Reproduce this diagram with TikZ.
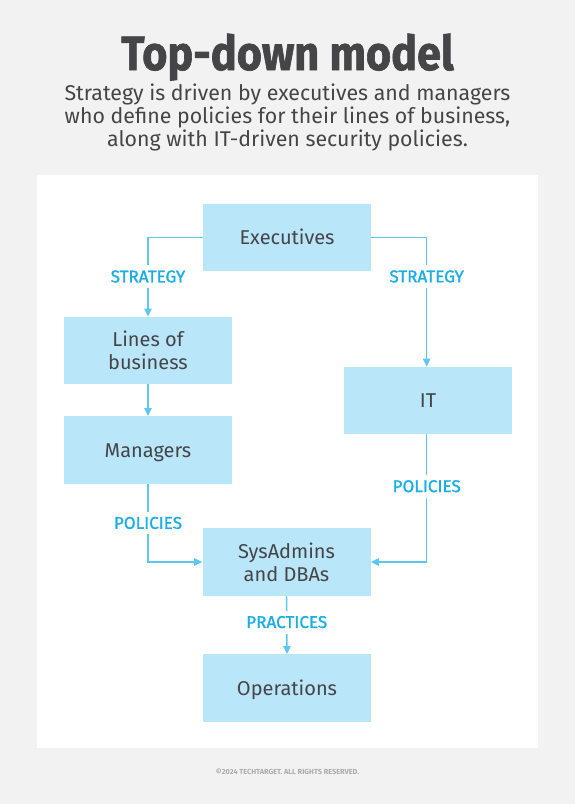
\documentclass[tikz,border=0pt]{standalone}
\usepackage{fontspec}
\setmainfont{Fira Sans}
\newfontfamily\lblfont[FakeBold=1.3]{Fira Sans}
\newfontfamily\titlefont[FakeBold=1.4]{Fira Sans}
\usetikzlibrary{arrows.meta}
\definecolor{bgc}{HTML}{F2F2F2}
\definecolor{boxc}{HTML}{BAE6FA}
\definecolor{linec}{HTML}{5CC8F2}
\definecolor{lblc}{HTML}{1BADE8}
\definecolor{txtc}{HTML}{454548}
\definecolor{footc}{HTML}{ABABAB}
\begin{document}
\begin{tikzpicture}[x=0.75pt,y=-0.75pt,
  box/.style={fill=boxc, minimum width=126pt, minimum height=50.5pt, inner sep=0pt, align=center, text=txtc, font=\fontsize{15}{17.5}\selectfont},
  boxone/.style={box, text height=10.6pt, text depth=0pt},
  lbl/.style={fill=white, text=lblc, inner xsep=2pt, inner ysep=4pt, font=\lblfont\fontsize{12.8}{14}\selectfont},
  arr/.style={draw=linec, line width=1.1pt, -{Triangle[length=6pt,width=5.5pt]}},
  subt/.style={anchor=base, text=txtc, font=\fontsize{16}{18}\selectfont, inner sep=0pt}]
\fill[bgc] (0,0) rectangle (575,804);
\useasboundingbox (0,0) rectangle (575,804);
\fill[white] (37,175) rectangle (538,748);
\node[anchor=base, text=txtc, inner sep=0pt, font=\titlefont\bfseries\fontsize{36}{40}\selectfont, xscale=0.9] (title) at (287.5,70) {Top-down model};
\node[subt] (sub1) at (287.5,100) {Strategy is driven by executives and managers};
\node[subt] (sub2) at (287.5,123) {who define policies for their lines of business,};
\node[subt] (sub3) at (287.5,146) {along with IT-driven security policies.};
\node[boxone] (exec) at (287,237.5) {Executives};
\node[box] (lob) at (148,350.5) {Lines of\\business};
\node[boxone] (mgr) at (148,450) {Managers};
\node[boxone] (it) at (428,400.5) {IT};
\node[box] (sys) at (286.5,562) {SysAdmins\\and DBAs};
\node[boxone] (ops) at (287,688) {Operations};
\draw[arr] (exec.west) -| node[lbl, pos=0.747] (s1) {STRATEGY} (lob.north);
\draw[arr] (exec.east) -| node[lbl, pos=0.651] (s2) {STRATEGY} ([xshift=-1pt]it.north);
\draw[arr] (lob.south) -- (mgr.north);
\draw[arr] (mgr.south) |- node[lbl, pos=0.25] (p1) {POLICIES} (sys.west);
\draw[arr] ([xshift=-1pt]it.south) |- node[lbl, pos=0.203] (p2) {POLICIES} (sys.east);
\draw[arr] (sys.south) -- node[lbl, pos=0.45] (pr) {PRACTICES} (ops.north);
\node[anchor=base, text=footc, inner sep=0pt, font=\bfseries\fontsize{5.5}{6}\selectfont] (foot) at (287.5,774) {©2024 TECHTARGET. ALL RIGHTS RESERVED.};
\end{tikzpicture}
\end{document}
